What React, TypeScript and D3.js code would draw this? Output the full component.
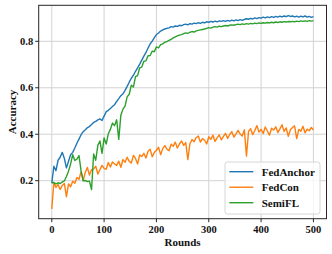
import React from 'react';
import * as d3 from 'd3';

// rounds sampled every 4 communication rounds
const rounds = d3.range(0, 501, 4);

const fedAnchor = [
  0.190, 0.262, 0.243, 0.288, 0.301, 0.322, 0.296, 0.255, 0.284, 0.312,
  0.322, 0.341, 0.361, 0.379, 0.398, 0.411, 0.419, 0.428, 0.433, 0.442,
  0.451, 0.455, 0.462, 0.466, 0.459, 0.478, 0.497, 0.503, 0.511, 0.519,
  0.527, 0.541, 0.553, 0.566, 0.574, 0.589, 0.606, 0.624, 0.641, 0.654,
  0.671, 0.686, 0.702, 0.719, 0.736, 0.752, 0.771, 0.789, 0.801, 0.816,
  0.829, 0.836, 0.844, 0.849, 0.853, 0.856, 0.858, 0.863, 0.861, 0.866,
  0.864, 0.869, 0.867, 0.872, 0.874, 0.871, 0.876, 0.874, 0.878, 0.876,
  0.880, 0.877, 0.882, 0.879, 0.884, 0.882, 0.886, 0.883, 0.887, 0.884,
  0.888, 0.886, 0.889, 0.886, 0.890, 0.887, 0.891, 0.888, 0.892, 0.889,
  0.893, 0.890, 0.894, 0.897, 0.895, 0.899, 0.896, 0.901, 0.898, 0.902,
  0.900, 0.904, 0.901, 0.905, 0.902, 0.906, 0.903, 0.907, 0.904, 0.908,
  0.905, 0.909, 0.906, 0.911, 0.907, 0.909, 0.905, 0.908, 0.904, 0.908,
  0.905, 0.909, 0.904, 0.907, 0.903, 0.906,
];

const fedCon = [
  0.078, 0.192, 0.171, 0.184, 0.162, 0.179, 0.188, 0.131, 0.186, 0.174,
  0.198, 0.189, 0.214, 0.206, 0.239, 0.201, 0.236, 0.257, 0.224, 0.248,
  0.251, 0.262, 0.229, 0.247, 0.266, 0.253, 0.249, 0.278, 0.259, 0.281,
  0.272, 0.266, 0.284, 0.258, 0.291, 0.279, 0.301, 0.283, 0.276, 0.309,
  0.296, 0.272, 0.311, 0.304, 0.318, 0.298, 0.327, 0.335, 0.303, 0.322,
  0.331, 0.344, 0.312, 0.338, 0.351, 0.336, 0.329, 0.357, 0.348, 0.366,
  0.341, 0.358, 0.371, 0.352, 0.364, 0.291, 0.359, 0.377, 0.368, 0.386,
  0.392, 0.366, 0.381, 0.374, 0.358, 0.389, 0.378, 0.396, 0.369, 0.384,
  0.397, 0.376, 0.391, 0.404, 0.382, 0.399, 0.411, 0.388, 0.402, 0.417,
  0.401, 0.392, 0.419, 0.306, 0.412, 0.424, 0.398, 0.416, 0.437, 0.409,
  0.421, 0.403, 0.431, 0.414, 0.396, 0.426, 0.418, 0.432, 0.407, 0.423,
  0.441, 0.412, 0.427, 0.391, 0.419, 0.429, 0.436, 0.381, 0.421, 0.413,
  0.434, 0.406, 0.422, 0.415, 0.429, 0.418,
];

const semiFL = [
  0.190, 0.192, 0.186, 0.191, 0.188, 0.194, 0.199, 0.218, 0.241, 0.272,
  0.312, 0.287, 0.293, 0.308, 0.242, 0.199, 0.201, 0.196, 0.198, 0.162,
  0.315, 0.288, 0.352, 0.371, 0.318, 0.384, 0.358, 0.402, 0.421, 0.448,
  0.437, 0.462, 0.378, 0.482, 0.508, 0.521, 0.561, 0.572, 0.611, 0.603,
  0.648, 0.652, 0.686, 0.689, 0.714, 0.716, 0.738, 0.739, 0.758, 0.755,
  0.776, 0.772, 0.786, 0.789, 0.796, 0.799, 0.804, 0.808, 0.815, 0.819,
  0.823, 0.827, 0.829, 0.833, 0.836, 0.834, 0.839, 0.842, 0.840, 0.845,
  0.847, 0.849, 0.851, 0.853, 0.856, 0.859, 0.857, 0.861, 0.863, 0.861,
  0.865, 0.863, 0.866, 0.868, 0.866, 0.869, 0.871, 0.869, 0.872, 0.874,
  0.872, 0.875, 0.873, 0.876, 0.874, 0.877, 0.875, 0.878, 0.876, 0.879,
  0.877, 0.880, 0.878, 0.881, 0.879, 0.882, 0.880, 0.883, 0.881, 0.884,
  0.882, 0.885, 0.883, 0.885, 0.884, 0.886, 0.884, 0.887, 0.885, 0.888,
  0.886, 0.888, 0.886, 0.889, 0.887, 0.889,
];

const seriesNames = ['FedAnchor', 'FedCon', 'SemiFL'];
const seriesValues = [fedAnchor, fedCon, semiFL];
const seriesColors = ['#1f77b4', '#ff7f0e', '#2ca02c'];

const xTicks = [0, 100, 200, 300, 400, 500];
const yTicks = [0.2, 0.4, 0.6, 0.8];

const W = 332;
const H = 254;
const plot = { left: 38.7, right: 326.5, top: 5.3, bottom: 218.7 };
const font = '"Liberation Serif", "Times New Roman", serif';

export default function App() {
  const x = d3.scaleLinear().domain([-25, 525]).range([plot.left, plot.right]);
  const y = d3.scaleLinear().domain([0.0364, 0.955]).range([plot.bottom, plot.top]);

  const line = d3
    .line<number>()
    .x((_, i) => x(rounds[i]))
    .y(d => y(d));

  const legend = { x: 225, y: 162, w: 95, h: 52 };

  return (
    <svg
      width={W}
      height={H}
      style={{ position: 'absolute', left: 0, top: 0, background: '#fff' }}
      fontFamily={font}
      fontWeight="bold"
    >
      <defs>
        <clipPath id="plot-clip">
          <rect x={plot.left} y={plot.top} width={plot.right - plot.left} height={plot.bottom - plot.top} />
        </clipPath>
      </defs>

      {/* grid */}
      {xTicks.map(t => (
        <line key={'gx' + t} x1={x(t)} x2={x(t)} y1={plot.top} y2={plot.bottom} stroke="#d3d3d3" strokeWidth={1} />
      ))}
      {yTicks.map(t => (
        <line key={'gy' + t} x1={plot.left} x2={plot.right} y1={y(t)} y2={y(t)} stroke="#d3d3d3" strokeWidth={1} />
      ))}

      {/* series */}
      <g clipPath="url(#plot-clip)">
        {seriesValues.map((vals, k) => (
          <path
            key={seriesNames[k]}
            d={line(vals) || ''}
            fill="none"
            stroke={seriesColors[k]}
            strokeWidth={1.4}
            strokeLinejoin="round"
          />
        ))}
      </g>

      {/* frame */}
      <rect
        x={plot.left}
        y={plot.top}
        width={plot.right - plot.left}
        height={plot.bottom - plot.top}
        fill="none"
        stroke="#262626"
        strokeWidth={1}
      />

      {/* x axis */}
      {xTicks.map(t => (
        <g key={'xt' + t}>
          <line x1={x(t)} x2={x(t)} y1={plot.bottom} y2={plot.bottom + 3.5} stroke="#262626" />
          <text x={x(t)} y={plot.bottom + 14} textAnchor="middle" fontSize={10.5} fill="#111">
            {t}
          </text>
        </g>
      ))}
      <text x={(plot.left + plot.right) / 2} y={246} textAnchor="middle" fontSize={11} fill="#111">
        Rounds
      </text>

      {/* y axis */}
      {yTicks.map(t => (
        <g key={'yt' + t}>
          <line x1={plot.left - 3.5} x2={plot.left} y1={y(t)} y2={y(t)} stroke="#262626" />
          <text x={plot.left - 5.5} y={y(t)} dy="0.35em" textAnchor="end" fontSize={10.5} fill="#111">
            {d3.format('.1f')(t)}
          </text>
        </g>
      ))}
      <text
        transform={`translate(12,${(plot.top + plot.bottom) / 2}) rotate(-90)`}
        dy="0.35em"
        textAnchor="middle"
        fontSize={11}
        fill="#111"
      >
        Accuracy
      </text>

      {/* legend */}
      <rect
        x={legend.x}
        y={legend.y}
        width={legend.w}
        height={legend.h}
        rx={2.5}
        fill="#fff"
        fillOpacity={0.8}
        stroke="#d6d6d6"
        strokeWidth={1}
      />
      {seriesNames.map((name, k) => (
        <g key={'lg' + name} transform={`translate(0,${legend.y + 9.7 + k * 15.5})`}>
          <line x1={229.3} x2={253.3} y1={0} y2={0} stroke={seriesColors[k]} strokeWidth={1.4} />
          <text x={261.7} y={0} dy="0.35em" fontSize={11} fill="#111">
            {name}
          </text>
        </g>
      ))}
    </svg>
  );
}
